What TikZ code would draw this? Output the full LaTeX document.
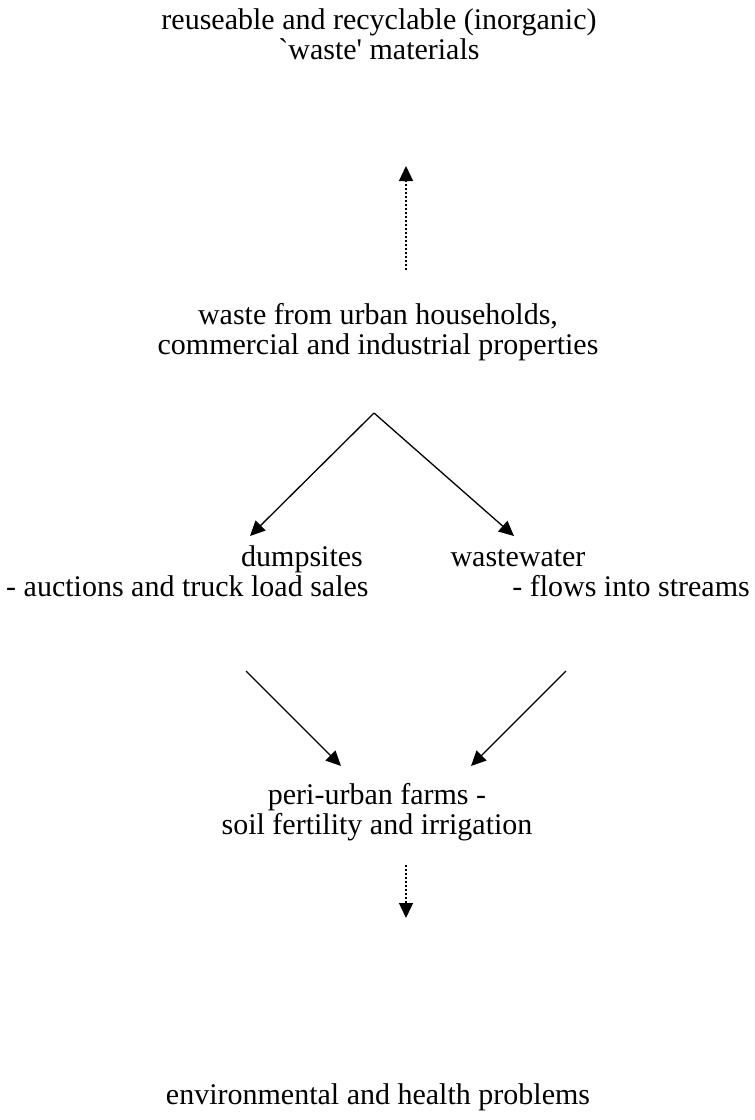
\documentclass[tikz,border=0pt]{standalone}
\usepackage{fontspec}
\setmainfont{Liberation Serif}[Ligatures=TeXOff]
\usetikzlibrary{arrows.meta}
\tikzset{
  label text/.style={align=center, inner sep=0pt, font=\fontsize{30bp}{30bp}\selectfont},
  flow/.style={line width=1.3bp, -{Triangle[length=15bp,width=14bp]}},
  dotflow/.style={flow, dash pattern=on 2bp off 2bp},
}
\begin{document}
\begin{tikzpicture}[x=1bp,y=-1bp]
\useasboundingbox (0,0) rectangle (755,1120);
\fill[white] (0,0) rectangle (755,1120);

% text blocks
\node[label text] (reuse) at (379,34) {reuseable and recyclable (inorganic)\\`waste' materials};
\node[label text] (waste) at (378,332) {waste from urban households,\\commercial and industrial properties};
\node[label text, anchor=base] (dump) at (302,566) {dumpsites};
\node[label text, anchor=base west] (dumpuse) at (6,596) {- auctions and truck load sales};
\node[label text, anchor=base] (water) at (518,566) {wastewater};
\node[label text, anchor=base east] (wateruse) at (750,596) {- flows into streams};
\node[label text] (farms) at (377,812) {peri-urban farms -\\soil fertility and irrigation};
\node[label text] (health) at (378,1097) {environmental and health problems};

% connector end points
\coordinate (upfrom) at (406,270);
\coordinate (upto) at (406,166);
\coordinate (split) at (374,413);
\coordinate (toDump) at (250,536);
\coordinate (toWater) at (514,536);
\coordinate (dumpOut) at (246,671);
\coordinate (waterOut) at (566,671);
\coordinate (farmsInL) at (341,766);
\coordinate (farmsInR) at (471,766);
\coordinate (downfrom) at (406,865);
\coordinate (downto) at (406,918);

% connectors
\draw[dotflow] (upfrom) -- (upto);
\draw[flow] (split) -- (toDump);
\draw[flow] (split) -- (toWater);
\draw[flow] (dumpOut) -- (farmsInL);
\draw[flow] (waterOut) -- (farmsInR);
\draw[dotflow] (downfrom) -- (downto);
\end{tikzpicture}
\end{document}
